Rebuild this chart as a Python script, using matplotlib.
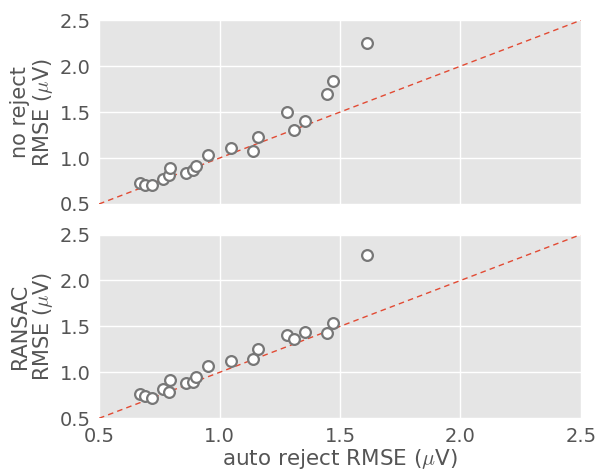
import matplotlib
matplotlib.use('Agg')
import matplotlib.pyplot as plt
import numpy as np

plt.style.use('ggplot')
plt.rcParams['mathtext.fontset'] = 'cm'
plt.rcParams['font.family'] = ['DejaVu Sans']

# RMSE per subject
auto_reject = [0.670, 0.692, 0.720, 0.767, 0.790, 0.795, 0.861, 0.891, 0.904, 0.954,
               1.049, 1.140, 1.160, 1.281, 1.308, 1.356, 1.445, 1.472, 1.611]
no_reject = [0.728, 0.703, 0.707, 0.775, 0.812, 0.891, 0.833, 0.870, 0.913, 1.029,
             1.105, 1.076, 1.225, 1.497, 1.308, 1.399, 1.696, 1.833, 2.253]
ransac = [0.764, 0.746, 0.724, 0.818, 0.789, 0.913, 0.887, 0.891, 0.949, 1.068,
          1.126, 1.141, 1.253, 1.405, 1.362, 1.435, 1.430, 1.539, 2.275]

lims = [0.5, 2.5]
ticks = [0.5, 1.0, 1.5, 2.0, 2.5]

fig = plt.figure(figsize=(6.09, 4.70), dpi=100)
ax1 = fig.add_axes([0.1626, 0.566, 0.7914, 0.391])
ax2 = fig.add_axes([0.1626, 0.110, 0.7914, 0.391])

for ax, other, label in [(ax1, no_reject, 'no reject\nRMSE ($\\mu$V)'),
                         (ax2, ransac, 'RANSAC\nRMSE ($\\mu$V)')]:
    ax.set_facecolor('#e5e5e5')
    ax.grid(True, color='white', linewidth=1.0)
    ax.set_axisbelow(True)
    for s in ax.spines.values():
        s.set_visible(False)
    ax.plot(lims, lims, color='#E24A33', linewidth=1.0, linestyle=(0, (4.0, 3.0)), zorder=2)
    ax.scatter(auto_reject, other, s=60, facecolor='white', edgecolor='#777777',
               linewidth=1.6, zorder=3)
    ax.set_xlim(lims)
    ax.set_ylim(lims)
    ax.set_xticks(ticks)
    ax.set_yticks(ticks)
    ax.tick_params(length=0, labelsize=14, colors='#555555', pad=6)
    ax.set_ylabel(label, fontsize=15, color='#555555', labelpad=3,
                  linespacing=1.05)

ax1.set_xticklabels([])
ax2.set_xlabel('auto reject RMSE ($\\mu$V)', fontsize=15.5, color='#555555', labelpad=1)

plt.savefig('out.png', dpi=100)
